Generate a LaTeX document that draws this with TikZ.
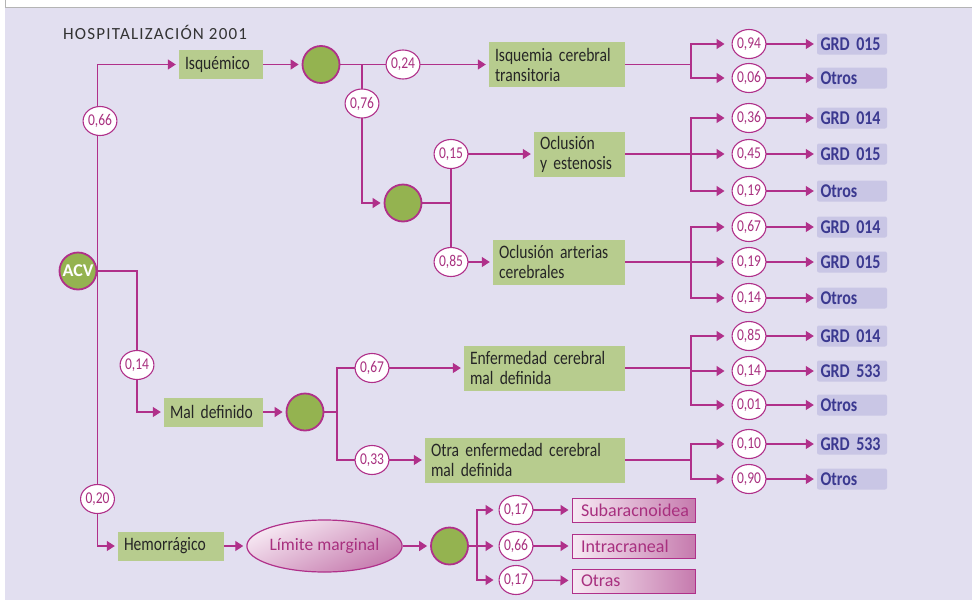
\documentclass[tikz,border=0pt]{standalone}
\usepackage{fontspec}
\setmainfont{Carlito}[FakeStretch=0.82,WordSpace=0.8]
\newfontfamily\titlefont{Carlito}[LetterSpace=7]
\newfontfamily\widefont{Carlito}
\usetikzlibrary{arrows.meta,shapes.geometric}
\pgfdeclarelayer{back}
\pgfdeclarelayer{bg}
\pgfsetlayers{back,bg,main}
\definecolor{lav}{HTML}{E2DFF0}
\definecolor{mag}{HTML}{B0308A}
\definecolor{boxg}{HTML}{B7CC8E}
\definecolor{circg}{HTML}{94B350}
\definecolor{txt}{HTML}{262626}
\definecolor{grdfill}{HTML}{C9C6E5}
\definecolor{grdtxt}{HTML}{3B3990}
\definecolor{pinkl}{HTML}{F7EAF4}
\definecolor{pinkd}{HTML}{C67BAE}
\definecolor{ptxt}{HTML}{A8307F}
\definecolor{framec}{HTML}{B4B4B4}
\definecolor{titlec}{HTML}{333333}
\tikzset{
  x=1pt, y=-1pt,
  gbox/.style={fill=boxg, inner xsep=6pt, inner ysep=0pt, align=left, text=txt,
    font=\fontsize{19}{20}\selectfont},
  gcirc/.style={circle, fill=circg, draw=mag, line width=1.8pt, minimum size=37pt, inner sep=0pt},
  prob/.style={ellipse, fill=white, draw=mag, line width=1.1pt, minimum width=31pt,
    minimum height=29pt, inner sep=0pt, text=ptxt, font=\fontsize{16.5}{16.5}\selectfont},
  grd/.style={fill=grdfill, rounded corners=2pt, minimum height=21pt, text width=63pt,
    inner xsep=3.5pt, inner ysep=0pt, align=left, text=grdtxt,
    font=\fontsize{19.5}{19.5}\selectfont\bfseries},
  pbox/.style={draw=mag, line width=1pt, left color=pinkl, right color=pinkd,
    minimum height=24pt, text width=105pt, inner xsep=9pt, inner ysep=0pt, align=left,
    text=ptxt, font=\widefont\fontsize{18}{18}\selectfont},
  conn/.style={draw=mag, line width=1.3pt},
  arr/.style={conn, -{Triangle[length=8pt,width=10pt]}, shorten >=3pt},
  arrl/.style={arr, shorten >=7pt},
  arrm/.style={arr, shorten >=5pt},
}
\begin{document}
\begin{tikzpicture}
\useasboundingbox (0,0) rectangle (972,600);
\begin{pgfonlayer}{back}
\fill[white] (0,0) rectangle (972,600);
\fill[lav] (5,8) rectangle (972,600);
\draw[framec, line width=0.8pt] (5,7) -- (972,7);
\draw[framec, line width=0.8pt] (5,0) -- (5,7);
\end{pgfonlayer}

\node[anchor=base west, inner sep=0pt, text=titlec, font=\titlefont\fontsize{17}{17}\selectfont] (title) at (63,39) {HOSPITALIZACIÓN 2001};

% green circles
\node[gcirc, text=white, font=\widefont\fontsize{18}{18}\selectfont\bfseries] (acv) at (78,271) {ACV};
\node[gcirc] (c1) at (321,64.5) {};
\node[gcirc] (c2) at (403,203) {};
\node[gcirc] (c3) at (305,412) {};
\node[gcirc] (c4) at (449.5,546) {};

% green boxes
\node[gbox, text width=72pt, minimum height=29pt] (isq) at (221,64.5) {Isquémico};
\node[gbox, text width=124pt, minimum height=45pt] (ict) at (557,64.5) {Isquemia cerebral\\transitoria};
\node[gbox, text width=79pt, minimum height=45pt] (oye) at (579.5,154) {Oclusión\\y estenosis};
\node[gbox, text width=120pt, minimum height=45pt] (oac) at (559,262) {Oclusión arterias\\cerebrales};
\node[gbox, text width=87pt, minimum height=29pt] (mal) at (213.5,412) {Mal definido};
\node[gbox, text width=149pt, minimum height=45pt] (ecm) at (544.5,368) {Enfermedad cerebral\\mal definida};
\node[gbox, text width=188pt, minimum height=45pt] (oec) at (525,460) {Otra enfermedad cerebral\\mal definida};
\node[gbox, text width=94pt, minimum height=29pt] (hem) at (171,546) {Hemorrágico};

% ellipse
\node[ellipse, draw=mag, line width=1.2pt, top color=pinkl, bottom color=pinkd, shading angle=25,
  minimum width=123pt, minimum height=52pt, inner sep=0pt, text=ptxt,
  font=\widefont\fontsize{17.5}{17.5}\selectfont] (lim) at (324.5,546) {Límite marginal};

% probability circles
\node[prob] (p066) at (100,121) {0,66};
\node[prob] (p014) at (137,365) {0,14};
\node[prob] (p020) at (97.5,499) {0,20};
\node[prob] (p024) at (403,64.5) {0,24};
\node[prob] (p076) at (362,103.5) {0,76};
\node[prob] (p015) at (451,154) {0,15};
\node[prob] (p085) at (451,262) {0,85};
\node[prob] (p067) at (372,368) {0,67};
\node[prob] (p033) at (372,460) {0,33};

% right column
\foreach \yy/\pp/\gg [count=\i] in {44/{0,94}/{GRD 015}, 78/{0,06}/{Otros},
  118/{0,36}/{GRD 014}, 154/{0,45}/{GRD 015}, 191/{0,19}/{Otros},
  227/{0,67}/{GRD 014}, 262/{0,19}/{GRD 015}, 298/{0,14}/{Otros},
  336/{0,85}/{GRD 014}, 371/{0,14}/{GRD 533}, 405/{0,01}/{Otros},
  444/{0,10}/{GRD 533}, 479/{0,90}/{Otros}} {
  \node[prob] (r\i) at (749,\yy) {\pp};
  \node[grd] (g\i) at (852,\yy) {\gg};
}

% bottom right
\node[prob] (b1) at (516,510) {0,17};
\node[prob] (b2) at (516,546) {0,66};
\node[prob] (b3) at (516,580) {0,17};
\node[pbox] (q1) at (633.5,510) {Subaracnoidea};
\node[pbox] (q2) at (633.5,546) {Intracraneal};
\node[pbox] (q3) at (633.5,581) {Otras};

\coordinate (j1) at (362,64.5);
\coordinate (j2) at (451,203);
\coordinate (j3) at (337,412);
\coordinate (j4) at (477,546);
\coordinate (k1) at (691,64.5);
\coordinate (k2) at (691,154);
\coordinate (k3) at (691,262);
\coordinate (k4) at (691,368);
\coordinate (k5) at (691,460);

\begin{pgfonlayer}{bg}
\draw[arr] (acv.east) |- (isq.west);
\draw[arr] (acv.east) |- (hem.west);
\draw[arr] (acv.east) -| (p014.center) |- (mal.west);
\draw[arr] (isq) -- (c1);
\draw[arr] (c1) -- (ict);
\draw[arr] (j1) |- (c2);
\draw[conn] (c2) -- (j2);
\draw[conn] (p015.center) -- (p085.center);
\draw[arr] (p015.center) -- (oye);
\draw[arr] (p085.center) -- (oac);
\draw[arr] (mal) -- (c3);
\draw[conn] (c3) -- (j3);
\draw[arr] (j3) |- (ecm);
\draw[arr] (j3) |- (oec);
\draw[arr] (hem) -- (lim);
\draw[arr] (lim) -- (c4);
\draw[conn] (c4) -- (j4);
\draw[arrm] (j4) |- (b1);
\draw[arrm] (j4) -- (b2);
\draw[arrm] (j4) |- (b3);
\draw[arr] (b1) -- (q1);
\draw[arr] (b2) -- (q2);
\draw[arr] (b3) -- (q3);
\draw[conn] (ict) -- (k1);
\draw[conn] (oye) -- (k2);
\draw[conn] (oac) -- (k3);
\draw[conn] (ecm) -- (k4);
\draw[conn] (oec) -- (k5);
\draw[arrl] (k1) |- (r1);
\draw[arrl] (k1) |- (r2);
\draw[arrl] (k2) |- (r3);
\draw[arrl] (k2) |- (r4);
\draw[arrl] (k2) |- (r5);
\draw[arrl] (k3) |- (r6);
\draw[arrl] (k3) |- (r7);
\draw[arrl] (k3) |- (r8);
\draw[arrl] (k4) |- (r9);
\draw[arrl] (k4) |- (r10);
\draw[arrl] (k4) |- (r11);
\draw[arrl] (k5) |- (r12);
\draw[arrl] (k5) |- (r13);
\foreach \i in {1,...,13} { \draw[arr] (r\i) -- (g\i); }
\end{pgfonlayer}
\end{tikzpicture}
\end{document}
